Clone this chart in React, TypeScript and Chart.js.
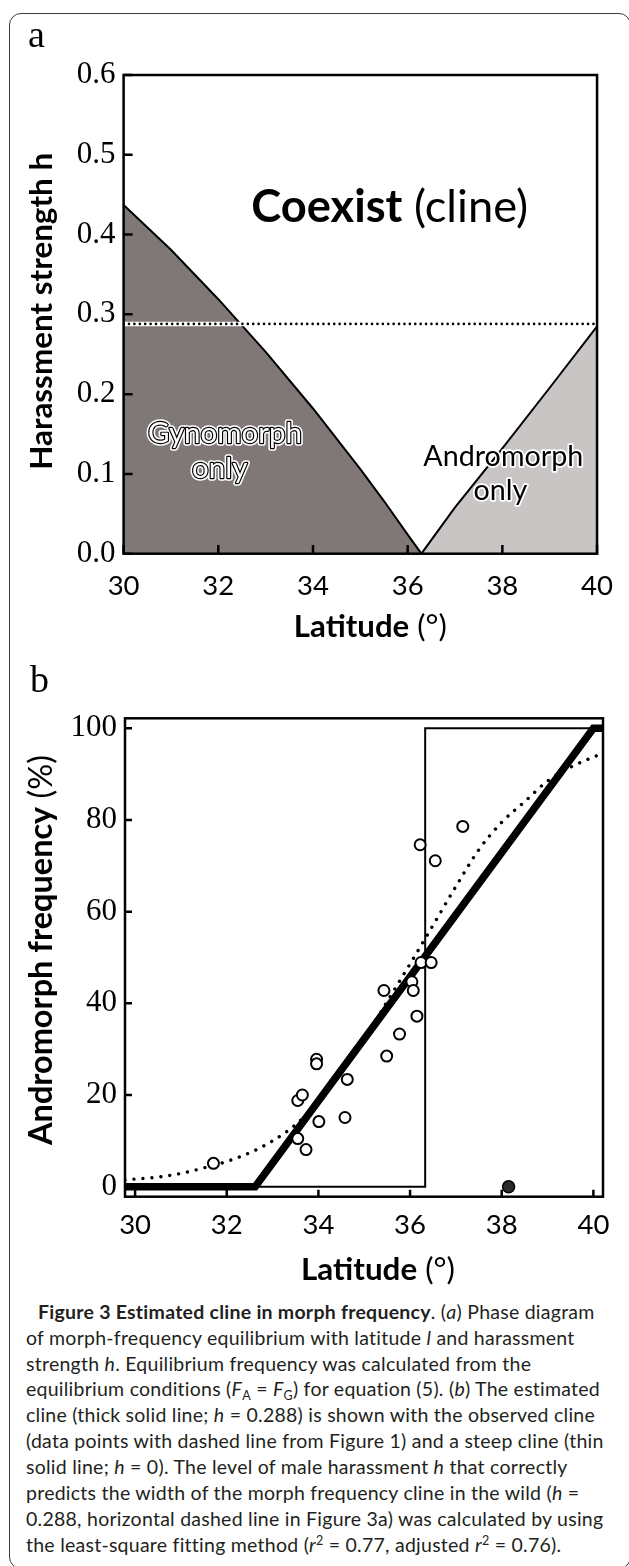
import React, { useEffect, useRef } from 'react';
import { Chart, registerables } from 'chart.js';

Chart.register(...registerables);

// ---------------- Panel a: phase diagram ----------------
const latitudeTicks = [30, 32, 34, 36, 38, 40];
const harassmentTicks = [0, 0.1, 0.2, 0.3, 0.4, 0.5, 0.6];
const gynoBoundaryLat = [30, 31, 32, 33, 34, 35, 35.5, 36, 36.29];
const gynoBoundaryH = [0.437, 0.381, 0.319, 0.253, 0.182, 0.106, 0.066, 0.024, 0];
const andrBoundaryLat = [36.29, 37, 38, 39, 40];
const andrBoundaryH = [0, 0.058, 0.132, 0.208, 0.285];
const estimatedH = 0.288;
const phaseLatRange = [30, 40];
const phaseHRange = [0, 0.6];

// ---------------- Panel b: cline ----------------
const frequencyTicks = [0, 20, 40, 60, 80, 100];
const observedLat = [31.71, 33.55, 33.55, 33.65, 33.73, 33.96, 33.96, 34.01, 34.58, 34.63, 35.43, 35.49, 35.77, 36.04, 36.07, 36.15, 36.22, 36.24, 36.46, 36.55, 37.15];
const observedFreq = [5.1, 10.5, 18.8, 20.0, 8.1, 27.8, 26.8, 14.2, 15.1, 23.4, 42.8, 28.5, 33.3, 44.7, 42.8, 37.2, 74.6, 48.9, 48.9, 71.1, 78.6];
const excludedLat = [38.15];
const excludedFreq = [0];
const fitLat = [29.78, 30.5, 31, 31.5, 32, 32.5, 33, 33.5, 34, 34.5, 35, 35.5, 36, 36.5, 37, 37.5, 38, 38.5, 39, 39.5, 40.21];
const fitFreq = [1.5, 2.1, 2.9, 4.1, 5.5, 7.4, 10.0, 13.5, 18.5, 24.8, 32.0, 40.4, 48.6, 57.0, 65.5, 73.5, 79.5, 84.0, 88.5, 91.5, 94.6];
const steepLat = [29.78, 36.33, 36.33, 40.21];
const steepFreq = [0, 0, 100, 100];
const estimatedLat = [29.78, 32.62, 40.0, 40.21];
const estimatedFreq = [0, 0, 100, 100];
const clineLatRange = [29.78, 40.21];
const clineFreqRange = [-2.18, 102.18];

const SERIF = '"Liberation Serif", "Times New Roman", serif';
const SANS = 'Lato, "Noto Sans", sans-serif';

const pts = (xs: number[], ys: number[]) => xs.map((x, i) => ({ x, y: ys[i] }));

type Part = { text: string; bold?: boolean; italic?: boolean; family?: string };
const partFont = (p: Part, size: number) =>
  `${p.italic ? 'italic ' : ''}${p.bold ? 'bold ' : ''}${size}px ${p.family || SANS}`;
function measureParts(ctx: CanvasRenderingContext2D, parts: Part[], size: number) {
  let w = 0;
  for (const p of parts) {
    ctx.font = partFont(p, size);
    w += ctx.measureText(p.text).width;
  }
  return w;
}
function fitSize(ctx: CanvasRenderingContext2D, parts: Part[], width: number) {
  return (30 * width) / measureParts(ctx, parts, 30);
}
function drawParts(
  ctx: CanvasRenderingContext2D,
  parts: Part[],
  size: number,
  cx: number,
  baseline: number,
  opts: { rotate?: boolean; mode?: 'plain' | 'whiteOutlined' | 'halo' } = {}
) {
  const total = measureParts(ctx, parts, size);
  ctx.save();
  ctx.translate(cx, baseline);
  if (opts.rotate) ctx.rotate(-Math.PI / 2);
  ctx.textBaseline = 'alphabetic';
  ctx.textAlign = 'left';
  ctx.lineJoin = 'round';
  let x = -total / 2;
  for (const p of parts) {
    ctx.font = partFont(p, size);
    const w = ctx.measureText(p.text).width;
    if (opts.mode === 'whiteOutlined') {
      ctx.strokeStyle = '#fff';
      ctx.lineWidth = 5.5;
      ctx.strokeText(p.text, x, 0);
      ctx.strokeStyle = '#000';
      ctx.lineWidth = 2.4;
      ctx.strokeText(p.text, x, 0);
      ctx.fillStyle = '#fff';
      ctx.fillText(p.text, x, 0);
    } else if (opts.mode === 'halo') {
      ctx.strokeStyle = '#fff';
      ctx.lineWidth = 3.5;
      ctx.strokeText(p.text, x, 0);
      ctx.fillStyle = '#000';
      ctx.fillText(p.text, x, 0);
    } else {
      ctx.fillStyle = '#000';
      ctx.fillText(p.text, x, 0);
    }
    x += w;
  }
  ctx.restore();
}

function frameAndTicks(chart: any, xTicks: number[], yTicks: number[], xLen: number, yLen: number) {
  const { ctx, chartArea: a, scales } = chart;
  ctx.save();
  ctx.strokeStyle = '#000';
  ctx.lineWidth = 2.5;
  ctx.strokeRect(a.left, a.top, a.right - a.left, a.bottom - a.top);
  ctx.beginPath();
  for (const v of xTicks) {
    const px = scales.x.getPixelForValue(v);
    ctx.moveTo(px, a.bottom);
    ctx.lineTo(px, a.bottom - xLen);
  }
  for (const v of yTicks) {
    const py = scales.y.getPixelForValue(v);
    ctx.moveTo(a.left, py);
    ctx.lineTo(a.left + yLen, py);
  }
  ctx.stroke();
  ctx.restore();
}

const tickFontSans = { family: SANS, size: 27.5, lineHeight: 1.2 };
const tickFontSerif = { family: SERIF, size: 31, lineHeight: 1.2 };

function axisX(range: number[], ticks: number[], height: number, padding: number) {
  return {
    type: 'linear',
    min: range[0],
    max: range[1],
    afterBuildTicks: (s: any) => {
      s.ticks = ticks.map((value) => ({ value }));
    },
    afterFit: (s: any) => {
      s.height = height;
    },
    grid: { display: false, drawTicks: false },
    border: { display: false },
    ticks: {
      autoSkip: false,
      maxRotation: 0,
      padding,
      color: '#000',
      font: tickFontSans,
      callback: (v: any) => String(v),
    },
  };
}
function axisY(range: number[], ticks: number[], width: number, fmt: (v: number) => string) {
  return {
    type: 'linear',
    min: range[0],
    max: range[1],
    afterBuildTicks: (s: any) => {
      s.ticks = ticks.map((value) => ({ value }));
    },
    afterFit: (s: any) => {
      s.width = width;
    },
    grid: { display: false, drawTicks: false },
    border: { display: false },
    ticks: {
      autoSkip: false,
      padding: 8,
      color: '#000',
      font: tickFontSerif,
      callback: (v: any) => fmt(Number(v)),
    },
  };
}

const panelAPlugin = {
  id: 'panelAText',
  afterDatasetsDraw(chart: any) {
    const { ctx, chartArea: a, scales } = chart;
    const { x, y } = scales;
    frameAndTicks(chart, latitudeTicks, harassmentTicks, 8.7, 9);
    ctx.save();
    ctx.fillStyle = '#000';
    ctx.font = `38px ${SERIF}`;
    ctx.textBaseline = 'alphabetic';
    ctx.fillText('a', 28, 47);
    ctx.restore();
    const coexist: Part[] = [{ text: 'Coexist', bold: true }, { text: ' (cline)' }];
    drawParts(ctx, coexist, fitSize(ctx, coexist, 277), x.getPixelForValue(35.62), y.getPixelForValue(0.4163));
    const gyno: Part[] = [{ text: 'Gynomorph' }];
    const gs = fitSize(ctx, gyno, 154);
    drawParts(ctx, gyno, gs, x.getPixelForValue(32.14), y.getPixelForValue(0.1387), { mode: 'whiteOutlined' });
    drawParts(ctx, [{ text: 'only' }], gs, x.getPixelForValue(32.03), y.getPixelForValue(0.1387) + 35, { mode: 'whiteOutlined' });
    const andr: Part[] = [{ text: 'Andromorph' }];
    const as = fitSize(ctx, andr, 160);
    drawParts(ctx, andr, as, x.getPixelForValue(38.02), y.getPixelForValue(0.1093), { mode: 'halo' });
    drawParts(ctx, [{ text: 'only' }], as, x.getPixelForValue(37.96), y.getPixelForValue(0.1093) + 34, { mode: 'halo' });
    const xt: Part[] = [{ text: 'Latitude', bold: true }, { text: ' (°)' }];
    drawParts(ctx, xt, fitSize(ctx, xt, 153), (a.left + a.right) / 2 + 10, a.bottom + 83.5);
    const yt: Part[] = [{ text: 'Harassment strength h', bold: true }];
    drawParts(ctx, yt, fitSize(ctx, yt, 317), 52, (a.top + a.bottom) / 2 - 3, { rotate: true });
  },
};

const panelBPlugin = {
  id: 'panelBText',
  afterDatasetsDraw(chart: any) {
    const { ctx, chartArea: a } = chart;
    frameAndTicks(chart, latitudeTicks, frequencyTicks, 7, 7);
    ctx.save();
    ctx.fillStyle = '#000';
    ctx.font = `38px ${SERIF}`;
    ctx.textBaseline = 'alphabetic';
    ctx.fillText('b', 30, 52);
    ctx.restore();
    const xt: Part[] = [{ text: 'Latitude', bold: true }, { text: ' (°)' }];
    drawParts(ctx, xt, fitSize(ctx, xt, 154), (a.left + a.right) / 2 + 14, a.bottom + 83.3);
    const yt: Part[] = [{ text: 'Andromorph frequency', bold: true }, { text: ' (%)' }];
    drawParts(ctx, yt, fitSize(ctx, yt, 390), 52, (a.top + a.bottom) / 2 - 7.5, { rotate: true });
  },
};

const baseOptions = {
  animation: false,
  responsive: false,
  maintainAspectRatio: false,
  events: [],
  plugins: { legend: { display: false }, tooltip: { enabled: false }, title: { display: false } },
};

function PanelA() {
  const ref = useRef<HTMLCanvasElement>(null);
  useEffect(() => {
    const hLine = pts(phaseLatRange, [estimatedH, estimatedH]);
    const chart = new Chart(ref.current as HTMLCanvasElement, {
      type: 'line',
      data: {
        datasets: [
          { data: pts(gynoBoundaryLat, gynoBoundaryH), borderColor: '#000', borderWidth: 2, backgroundColor: '#807876', fill: 'origin', pointRadius: 0, tension: 0, order: 6 },
          { data: pts(andrBoundaryLat, andrBoundaryH), borderColor: '#000', borderWidth: 2, backgroundColor: '#c9c5c4', fill: 'origin', pointRadius: 0, tension: 0, order: 5 },
          { data: hLine, borderColor: '#fff', borderWidth: 4.5, pointRadius: 0, fill: false, order: 4 },
          { data: hLine, borderColor: '#000', borderWidth: 2.6, borderDash: [0.001, 5.4], borderCapStyle: 'round', pointRadius: 0, fill: false, order: 3 },
        ],
      },
      options: {
        ...baseOptions,
        layout: { padding: { left: 0, top: 75, right: 26.1, bottom: 0 } },
        scales: {
          x: axisX(phaseLatRange, latitudeTicks, 106.3, 16),
          y: axisY(phaseHRange, harassmentTicks, 123.6, (v) => v.toFixed(1)),
        },
      } as any,
      plugins: [panelAPlugin],
    } as any);
    return () => chart.destroy();
  }, []);
  return (
    <canvas
      ref={ref}
      width={629}
      height={660}
      style={{ position: 'absolute', left: 0, top: 0, width: 629, height: 660 }}
    />
  );
}

function PanelB() {
  const ref = useRef<HTMLCanvasElement>(null);
  useEffect(() => {
    const chart = new Chart(ref.current as HTMLCanvasElement, {
      type: 'line',
      data: {
        datasets: [
          { data: pts(steepLat, steepFreq), borderColor: '#000', borderWidth: 2, pointRadius: 0, fill: false, order: 6 },
          { data: pts(fitLat, fitFreq), borderColor: '#000', borderWidth: 3.4, borderDash: [0.001, 9], borderCapStyle: 'round', pointRadius: 0, fill: false, cubicInterpolationMode: 'monotone', order: 5 },
          { data: pts(estimatedLat, estimatedFreq), borderColor: '#000', borderWidth: 7.5, borderJoinStyle: 'miter', pointRadius: 0, fill: false, order: 4 },
          { data: pts(observedLat, observedFreq), showLine: false, pointRadius: 5.5, pointBorderWidth: 2, pointBackgroundColor: '#fff', pointBorderColor: '#000', order: 3 },
          { data: pts(excludedLat, excludedFreq), showLine: false, pointRadius: 6, pointBorderWidth: 1.5, pointBackgroundColor: '#2b2b2b', pointBorderColor: '#000', order: 2 },
        ],
      },
      options: {
        ...baseOptions,
        layout: { padding: { left: 0, top: 78.3, right: 26, bottom: 0 } },
        scales: {
          x: axisX(clineLatRange, latitudeTicks, 98.3, 12.3),
          y: axisY(clineFreqRange, frequencyTicks, 125, (v) => String(v)),
        },
      } as any,
      plugins: [panelBPlugin],
    } as any);
    return () => chart.destroy();
  }, []);
  return (
    <canvas
      ref={ref}
      width={629}
      height={655}
      style={{ position: 'absolute', left: 0, top: 640, width: 629, height: 655 }}
    />
  );
}

const sub = (t: string) => (
  <span style={{ fontSize: 12.5, position: 'relative', top: 4, lineHeight: 0 }}>{t}</span>
);
const sup = (t: string) => (
  <span style={{ fontSize: 12.5, position: 'relative', top: -7, lineHeight: 0 }}>{t}</span>
);

const captionLines: React.ReactNode[] = [
  <>
    <b>Figure 3 Estimated cline in morph frequency</b>. (<i>a</i>) Phase diagram
  </>,
  <>
    of morph-frequency equilibrium with latitude <i>l</i> and harassment
  </>,
  <>
    strength <i>h</i>. Equilibrium frequency was calculated from the
  </>,
  <>
    equilibrium conditions (<i>F</i>
    {sub('A')} = <i>F</i>
    {sub('G')}) for equation (5). (<i>b</i>) The estimated
  </>,
  <>
    cline (thick solid line; <i>h</i> = 0.288) is shown with the observed cline
  </>,
  <>(data points with dashed line from Figure 1) and a steep cline (thin</>,
  <>
    solid line; <i>h</i> = 0). The level of male harassment <i>h</i> that correctly
  </>,
  <>
    predicts the width of the morph frequency cline in the wild (<i>h</i> =
  </>,
  <>0.288, horizontal dashed line in Figure 3a) was calculated by using</>,
  <>
    the least-square fitting method (<i>r</i>
    {sup('2')} = 0.77, adjusted <i>r</i>
    {sup('2')} = 0.76).
  </>,
];

export default function App() {
  return (
    <div
      style={{
        position: 'absolute',
        left: 0,
        top: 0,
        width: 629,
        height: 1566,
        overflow: 'hidden',
        background: '#fff',
      }}
    >
      <div
        style={{
          position: 'absolute',
          left: 8.5,
          top: 12.5,
          width: 622,
          height: 1556,
          border: '1.5px solid #3a3a3a',
          borderRadius: 12,
          boxSizing: 'border-box',
        }}
      />
      <PanelA />
      <PanelB />
      <div
        style={{
          position: 'absolute',
          left: 26,
          top: 1298.8,
          fontFamily: SANS,
          fontSize: 19.5,
          letterSpacing: '0.25px',
          lineHeight: '25.9px',
          color: '#231f20',
          whiteSpace: 'nowrap',
        }}
      >
        {captionLines.map((line, i) => (
          <div key={i} style={{ paddingLeft: i === 0 ? 12 : 0, height: 25.9 }}>
            {line}
          </div>
        ))}
      </div>
    </div>
  );
}
